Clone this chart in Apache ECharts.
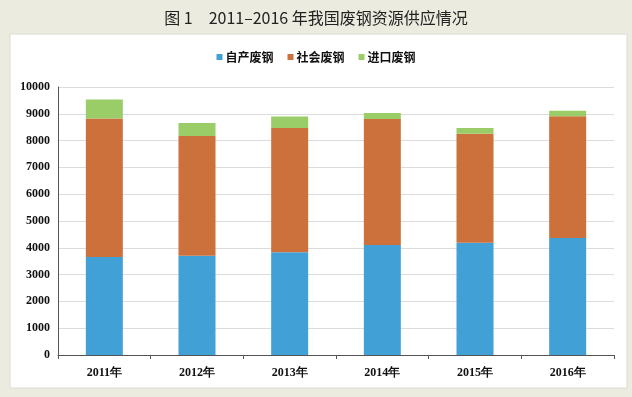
<!DOCTYPE html>
<html>
<head>
<meta charset="utf-8">
<script src="https://cdn.jsdelivr.net/npm/echarts@6/dist/echarts.min.js"></script>
<style>
    html, body { margin: 0; padding: 0; background: #ecebdf; }
    #chart { width: 632px; height: 397px; }
</style>
</head>
<body>
<div id="chart"></div>
<script>
    // 数据
    let years = ['2011年', '2012年', '2013年', '2014年', '2015年', '2016年']
    let ziChan = [3660, 3700, 3830, 4100, 4190, 4370]
    let sheHui = [5160, 4470, 4640, 4710, 4070, 4540]
    let jinKou = [710, 490, 430, 220, 210, 200]

    let colors = ['#41a0d6', '#cc713c', '#9acd68']
    let labelFont = {
        color: '#111',
        fontFamily: 'Liberation Serif',
        fontWeight: 'bold',
        fontSize: 12
    }

    let chart = echarts.init(document.getElementById('chart'))
    let option = {
        backgroundColor: '#ecebdf',
        animation: false,
        color: colors,
        title: {
            text: '图 1　2011–2016 年我国废钢资源供应情况',
            left: 'center',
            top: 5,
            textStyle: {
                color: '#222',
                fontSize: 16,
                fontWeight: 'normal',
                fontFamily: 'Noto Sans CJK SC'
            }
        },
        graphic: [{
            type: 'rect',
            z: -1,
            shape: { x: 10, y: 34, width: 617, height: 354 },
            style: { fill: '#ffffff', stroke: '#dcdcd0', lineWidth: 1 }
        }],
        legend: {
            top: 46,
            left: 'center',
            itemWidth: 6,
            itemHeight: 6,
            itemGap: 14,
            icon: 'rect',
            textStyle: {
                color: '#111',
                fontSize: 12,
                fontWeight: 'bold',
                fontFamily: 'Noto Sans CJK SC',
                padding: [0, 0, 0, -2]
            },
            data: ['自产废钢', '社会废钢', '进口废钢']
        },
        grid: { left: 58, right: 18, top: 87, bottom: 42 },
        xAxis: {
            type: 'category',
            data: years,
            axisLine: { lineStyle: { color: '#555', width: 1 } },
            axisTick: { show: true, length: 4, lineStyle: { color: '#555' } },
            axisLabel: Object.assign({ margin: 12 }, labelFont)
        },
        yAxis: {
            type: 'value',
            min: 0,
            max: 10000,
            interval: 1000,
            axisLine: { show: true, lineStyle: { color: '#555', width: 1 } },
            axisTick: { show: false },
            splitLine: { lineStyle: { color: '#dcdcdc', width: 1 } },
            axisLabel: Object.assign({ margin: 8, formatter: v => String(v) }, labelFont)
        },
        series: [{
            name: '自产废钢',
            type: 'bar',
            stack: 'total',
            barWidth: 37,
            data: ziChan
        }, {
            name: '社会废钢',
            type: 'bar',
            stack: 'total',
            barWidth: 37,
            data: sheHui
        }, {
            name: '进口废钢',
            type: 'bar',
            stack: 'total',
            barWidth: 37,
            data: jinKou
        }]
    }
    chart.setOption(option)
</script>
</body>
</html>
